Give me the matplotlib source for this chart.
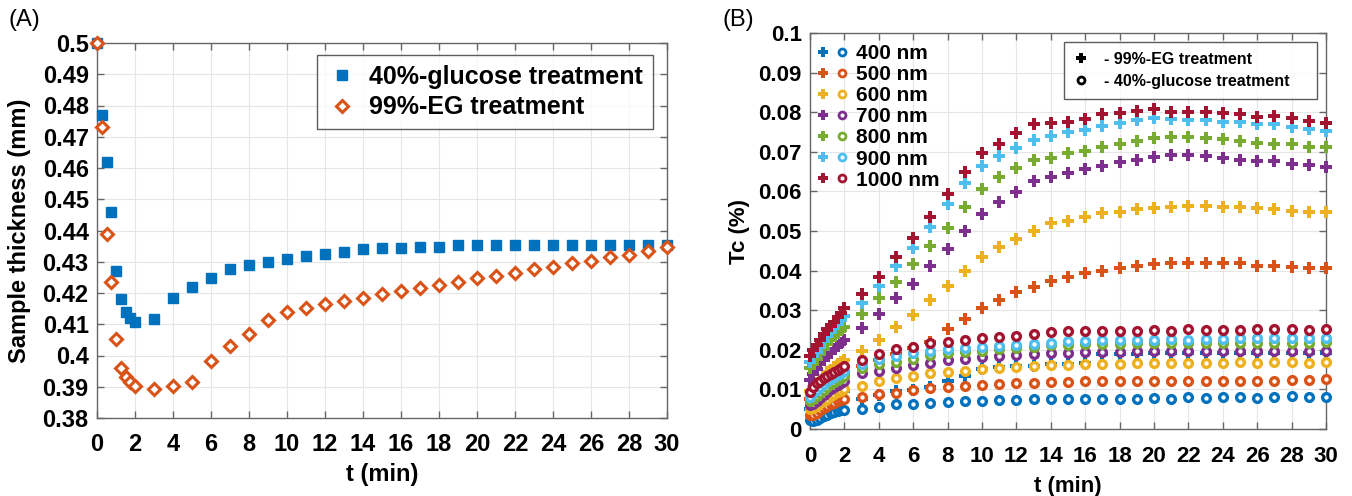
import matplotlib
matplotlib.use("Agg")
import matplotlib.pyplot as plt
from matplotlib.lines import Line2D
from matplotlib.legend_handler import HandlerTuple

plt.rcParams['font.family'] = ['Liberation Sans', 'DejaVu Sans']
plt.rcParams['font.weight'] = 'bold'

# ---------------- panel A data ----------------
tA = [0, 0.25, 0.5, 0.75, 1.0, 1.25, 1.5, 1.75, 2.0,
      3, 4, 5, 6, 7, 8, 9, 10, 11, 12, 13, 14, 15, 16,
      17, 18, 19, 20, 21, 22, 23, 24, 25, 26, 27, 28, 29, 30]
glucose_thk = [0.500, 0.477, 0.462, 0.446, 0.427, 0.418, 0.414, 0.412, 0.4108,
               0.4117, 0.4183, 0.422, 0.4247, 0.4276, 0.429, 0.4298, 0.431, 0.432,
               0.4325, 0.433, 0.434, 0.4345, 0.4345, 0.4348, 0.4348, 0.4353, 0.4353,
               0.4353, 0.4353, 0.4354, 0.4353, 0.4353, 0.4354, 0.4353, 0.4353, 0.4354, 0.4353]
eg_thk = [0.500, 0.473, 0.439, 0.4234, 0.4053, 0.3961, 0.3932, 0.3916, 0.3902,
          0.3892, 0.3902, 0.3916, 0.3982, 0.403, 0.407, 0.4114, 0.414, 0.4153,
          0.4166, 0.4174, 0.4185, 0.4196, 0.4206, 0.4215, 0.4226, 0.4236, 0.4249,
          0.4254, 0.4265, 0.4276, 0.4284, 0.4295, 0.4303, 0.4314, 0.4322, 0.4335, 0.4348]

# ---------------- panel B data ----------------
t_early = [0, 0.2, 0.4, 0.6, 0.8, 1.0, 1.2, 1.4, 1.6, 1.8, 2.0]
t_late = [3, 4, 5, 6, 7, 8, 9, 10, 11, 12, 13, 14, 15, 16,
          17, 18, 19, 20, 21, 22, 23, 24, 25, 26, 27, 28, 29, 30]
tB = t_early + t_late

wavelengths = ['400 nm', '500 nm', '600 nm', '700 nm', '800 nm', '900 nm', '1000 nm']

# 99%-EG treatment (plus markers)
eg_400 = [0.005, 0.0055, 0.006, 0.0065, 0.007, 0.0075, 0.008, 0.0084, 0.0088, 0.0092, 0.0095,
          0.0075, 0.0085, 0.0095, 0.0099, 0.0107, 0.012, 0.0135, 0.0151, 0.0156, 0.0158, 0.016, 0.0163,
          0.0164, 0.0166, 0.019, 0.019, 0.019, 0.0191, 0.0191, 0.0191, 0.0192, 0.0192, 0.0192, 0.0192,
          0.0193, 0.0193, 0.0192, 0.0193]
eg_500 = [0.0075, 0.0082, 0.009, 0.0098, 0.0106, 0.0113, 0.012, 0.0126, 0.0132, 0.0137, 0.0142,
          0.0158, 0.0175, 0.019, 0.0205, 0.022, 0.0253, 0.0278, 0.0305, 0.0326, 0.0345, 0.0359, 0.0374,
          0.0385, 0.0393, 0.0399, 0.0407, 0.0412, 0.0417, 0.0418, 0.042, 0.042, 0.042, 0.0418, 0.0412,
          0.0412, 0.041, 0.0406, 0.0406]
eg_600 = [0.0095, 0.0105, 0.0115, 0.0125, 0.0135, 0.0143, 0.015, 0.0157, 0.0163, 0.0168, 0.0174,
          0.0197, 0.0226, 0.0258, 0.0288, 0.0326, 0.036, 0.0399, 0.0435, 0.0459, 0.048, 0.0501, 0.0519,
          0.0526, 0.0535, 0.0545, 0.0549, 0.0555, 0.0557, 0.0561, 0.0564, 0.0564, 0.0561, 0.0561, 0.0557,
          0.0555, 0.0551, 0.0549, 0.0549]
eg_700 = [0.0125, 0.014, 0.0152, 0.0163, 0.0175, 0.0185, 0.0193, 0.0202, 0.021, 0.0218, 0.0225,
          0.0256, 0.029, 0.0332, 0.0366, 0.0412, 0.0455, 0.0501, 0.0542, 0.0572, 0.0598, 0.0626, 0.0637,
          0.0646, 0.0656, 0.0664, 0.0673, 0.0679, 0.0686, 0.0691, 0.0691, 0.069, 0.0684, 0.0679, 0.0677,
          0.0676, 0.0668, 0.0667, 0.0661]
eg_800 = [0.0155, 0.0165, 0.0178, 0.019, 0.0203, 0.0215, 0.0225, 0.0235, 0.0243, 0.025, 0.0258,
          0.029, 0.0332, 0.0372, 0.0416, 0.0462, 0.0508, 0.0561, 0.0606, 0.0637, 0.0658, 0.0679, 0.0685,
          0.0696, 0.0702, 0.0711, 0.072, 0.0727, 0.0734, 0.0738, 0.0738, 0.0734, 0.0732, 0.0727, 0.0721,
          0.072, 0.072, 0.0713, 0.0711]
eg_900 = [0.017, 0.0185, 0.0195, 0.0208, 0.0222, 0.0235, 0.0245, 0.0255, 0.0265, 0.0275, 0.0285,
          0.0319, 0.0361, 0.0412, 0.0458, 0.0511, 0.0567, 0.062, 0.0664, 0.0689, 0.0709, 0.073, 0.074,
          0.0749, 0.0755, 0.0765, 0.0772, 0.078, 0.0785, 0.0783, 0.078, 0.078, 0.0776, 0.0775, 0.0769,
          0.0769, 0.0762, 0.0757, 0.0753]
eg_1000 = [0.0185, 0.020, 0.0212, 0.0225, 0.024, 0.0252, 0.026, 0.027, 0.0282, 0.0292, 0.0305,
           0.034, 0.0385, 0.0435, 0.0482, 0.0536, 0.0593, 0.0648, 0.0696, 0.0719, 0.0747, 0.077, 0.0772,
           0.0776, 0.0782, 0.0795, 0.0799, 0.0804, 0.0808, 0.0801, 0.0801, 0.0801, 0.0797, 0.0795, 0.0789,
           0.079, 0.0785, 0.0779, 0.0772]

# 40%-glucose treatment (circle markers)
glu_400 = [0.0022, 0.002, 0.0023, 0.0028, 0.0032, 0.0036, 0.004, 0.0043, 0.0045, 0.0047, 0.0049,
           0.005, 0.0056, 0.0063, 0.0064, 0.0066, 0.0069, 0.0071, 0.0071, 0.0073, 0.0073, 0.0076, 0.0076,
           0.0077, 0.0077, 0.0077, 0.0077, 0.0077, 0.0079, 0.0077, 0.0081, 0.0079, 0.008, 0.008, 0.0079,
           0.008, 0.0083, 0.008, 0.0081]
glu_500 = [0.0035, 0.0036, 0.0041, 0.0047, 0.0052, 0.0057, 0.0062, 0.0066, 0.007, 0.0073, 0.0076,
           0.0082, 0.0088, 0.0092, 0.0098, 0.0104, 0.0107, 0.0109, 0.0111, 0.0114, 0.0115, 0.0116, 0.0118,
           0.0119, 0.012, 0.012, 0.0121, 0.0121, 0.0122, 0.0122, 0.0122, 0.0122, 0.0122, 0.0122, 0.0122,
           0.0122, 0.0124, 0.0123, 0.0126]
glu_600 = [0.005, 0.0052, 0.0058, 0.0065, 0.0071, 0.0077, 0.0083, 0.0088, 0.0093, 0.0097, 0.0101,
           0.0109, 0.0122, 0.0128, 0.0135, 0.0141, 0.0145, 0.0147, 0.0151, 0.0154, 0.0157, 0.016, 0.0162,
           0.0162, 0.0164, 0.0164, 0.0165, 0.0166, 0.0166, 0.0166, 0.0166, 0.0167, 0.0167, 0.0168, 0.0167,
           0.0168, 0.0168, 0.0167, 0.017]
glu_700 = [0.006, 0.0064, 0.0071, 0.0079, 0.0086, 0.0093, 0.01, 0.0106, 0.0112, 0.0117, 0.0122,
           0.0142, 0.0147, 0.0155, 0.0162, 0.0167, 0.0174, 0.0178, 0.0181, 0.0184, 0.0187, 0.0189, 0.0191,
           0.0193, 0.0194, 0.0195, 0.0195, 0.0196, 0.0196, 0.0196, 0.0197, 0.0197, 0.0197, 0.0198, 0.0197,
           0.0198, 0.0198, 0.0197, 0.0198]
glu_800 = [0.007, 0.0076, 0.0084, 0.0092, 0.0099, 0.0106, 0.0113, 0.0119, 0.0125, 0.013, 0.0135,
           0.0154, 0.0163, 0.017, 0.0178, 0.0187, 0.0193, 0.0195, 0.0196, 0.0201, 0.0205, 0.0208, 0.0212,
           0.0213, 0.0214, 0.0215, 0.0215, 0.0216, 0.0216, 0.0217, 0.0216, 0.0217, 0.0217, 0.0218, 0.0217,
           0.0218, 0.0218, 0.0218, 0.022]
glu_900 = [0.0082, 0.009, 0.0098, 0.0106, 0.0113, 0.012, 0.0126, 0.0132, 0.0137, 0.0142, 0.0147,
           0.0165, 0.0176, 0.0184, 0.0191, 0.0197, 0.0201, 0.0204, 0.0206, 0.0209, 0.0212, 0.0215, 0.0218,
           0.0222, 0.0223, 0.0224, 0.0225, 0.0226, 0.0226, 0.0227, 0.0226, 0.0228, 0.0228, 0.0229, 0.0229,
           0.023, 0.023, 0.0229, 0.0231]
glu_1000 = [0.0093, 0.0105, 0.0115, 0.0122, 0.0128, 0.0134, 0.014, 0.0145, 0.015, 0.0155, 0.016,
            0.0174, 0.0189, 0.0201, 0.0208, 0.0216, 0.022, 0.0226, 0.0229, 0.0232, 0.0235, 0.024, 0.0244,
            0.0247, 0.0247, 0.0247, 0.0247, 0.0247, 0.025, 0.0247, 0.0252, 0.025, 0.0251, 0.0251, 0.0252,
            0.0252, 0.0252, 0.025, 0.0252]

eg_series = [eg_400, eg_500, eg_600, eg_700, eg_800, eg_900, eg_1000]
glu_series = [glu_400, glu_500, glu_600, glu_700, glu_800, glu_900, glu_1000]

colors = ['#0072BD', '#D95319', '#EDB120', '#7E2F8E', '#77AC30', '#4DBEEE', '#A2142F']
spine_col = '#666666'
grid_col = '#e6e6e6'


def style_axes(ax, tick_size, xpad):
    ax.grid(True, color=grid_col, lw=0.8)
    ax.set_axisbelow(True)
    for s in ax.spines.values():
        s.set_color(spine_col)
        s.set_linewidth(1.0)
    ax.tick_params(direction='in', top=True, right=True, length=5, width=1,
                   color=spine_col, labelsize=tick_size, pad=6)
    ax.tick_params(axis='x', pad=xpad)
    for lab in ax.get_xticklabels() + ax.get_yticklabels():
        lab.set_fontweight('bold')


fig = plt.figure(figsize=(13.52, 4.96), dpi=100)

# ---------------- panel A ----------------
axA = fig.add_axes([97 / 1352, 1 - 418 / 496, 570 / 1352, 375 / 496])
axA.plot(tA, glucose_thk, ls='none', marker='s', ms=7, color=colors[0],
         mec=colors[0], clip_on=False, zorder=3, label='40%-glucose treatment')
axA.plot(tA, eg_thk, ls='none', marker='D', ms=6.5, mfc='white', mec=colors[1],
         mew=2.2, clip_on=False, zorder=4, label='99%-EG treatment')
axA.set_xlim(0, 30)
axA.set_ylim(0.38, 0.5)
axA.set_xticks(range(0, 31, 2))
axA.set_yticks([0.38, 0.39, 0.4, 0.41, 0.42, 0.43, 0.44, 0.45, 0.46, 0.47, 0.48, 0.49, 0.5])
axA.set_yticklabels(['0.38', '0.39', '0.4', '0.41', '0.42', '0.43', '0.44', '0.45',
                     '0.46', '0.47', '0.48', '0.49', '0.5'])
style_axes(axA, 17, 11)
axA.set_xlabel('t (min)', fontsize=17, fontweight='bold', labelpad=5)
axA.set_ylabel('Sample thickness (mm)', fontsize=17, fontweight='bold', labelpad=8)
legA = axA.legend(loc='upper right', bbox_to_anchor=(0.975, 0.968), borderaxespad=0,
                  fontsize=18, frameon=True, fancybox=False, edgecolor='#333333',
                  handletextpad=0.5, handlelength=1.2, borderpad=0.4, labelspacing=0.25)
legA.get_frame().set_linewidth(1.0)
fig.text(8 / 1352, 1 - 20 / 496, '(A)', fontsize=17, fontweight='normal', va='center', ha='left')

# ---------------- panel B ----------------
axB = fig.add_axes([810 / 1352, 1 - 429 / 496, 516 / 1352, 396 / 496])
for vals, c in zip(eg_series, colors):
    axB.plot(tB, vals, ls='none', marker='P', ms=8, color=c, mec=c, mew=0,
             clip_on=False, zorder=3)
for vals, c in zip(glu_series, colors):
    axB.plot(tB, vals, ls='none', marker='o', ms=5.6, mfc='white', mec=c, mew=2.4,
             clip_on=False, zorder=4)
axB.set_xlim(0, 30)
axB.set_ylim(0, 0.1)
axB.set_xticks(range(0, 31, 2))
axB.set_yticks([0, 0.01, 0.02, 0.03, 0.04, 0.05, 0.06, 0.07, 0.08, 0.09, 0.1])
axB.set_yticklabels(['0', '0.01', '0.02', '0.03', '0.04', '0.05', '0.06', '0.07', '0.08', '0.09', '0.1'])
style_axes(axB, 16, 12)
axB.set_xlabel('t (min)', fontsize=16, fontweight='bold', labelpad=7)
axB.set_ylabel('Tc (%)', fontsize=16, fontweight='bold', labelpad=6)

handles = []
for c in colors:
    hp = Line2D([], [], ls='none', marker='P', ms=7, color=c, mew=0)
    ho = Line2D([], [], ls='none', marker='o', ms=5, mfc='white', mec=c, mew=2)
    handles.append((hp, ho))
legB1 = axB.legend(handles, wavelengths, handler_map={tuple: HandlerTuple(ndivide=None, pad=0.25)},
                   loc='upper left', bbox_to_anchor=(0.012, 0.972), borderaxespad=0, borderpad=0,
                   frameon=False, fontsize=15, handlelength=1.6, handletextpad=0.3, labelspacing=0.1)
axB.add_artist(legB1)

h_eg = Line2D([], [], ls='none', marker='P', ms=7, color='black', mew=0)
h_glu = Line2D([], [], ls='none', marker='o', ms=5, mfc='white', mec='black', mew=2)
legB2 = axB.legend([h_eg, h_glu], ['- 99%-EG treatment', '- 40%-glucose treatment    '],
                   loc='upper right', bbox_to_anchor=(0.982, 0.9765), borderaxespad=0,
                   fontsize=11.5, frameon=True, fancybox=False, edgecolor='#333333',
                   handlelength=1.0, handletextpad=0.9, borderpad=0.6, labelspacing=0.45)
legB2.get_frame().set_linewidth(1.0)
fig.text(723 / 1352, 1 - 20 / 496, '(B)', fontsize=17, fontweight='normal', va='center', ha='left')

fig.savefig('out.png', dpi=100)
